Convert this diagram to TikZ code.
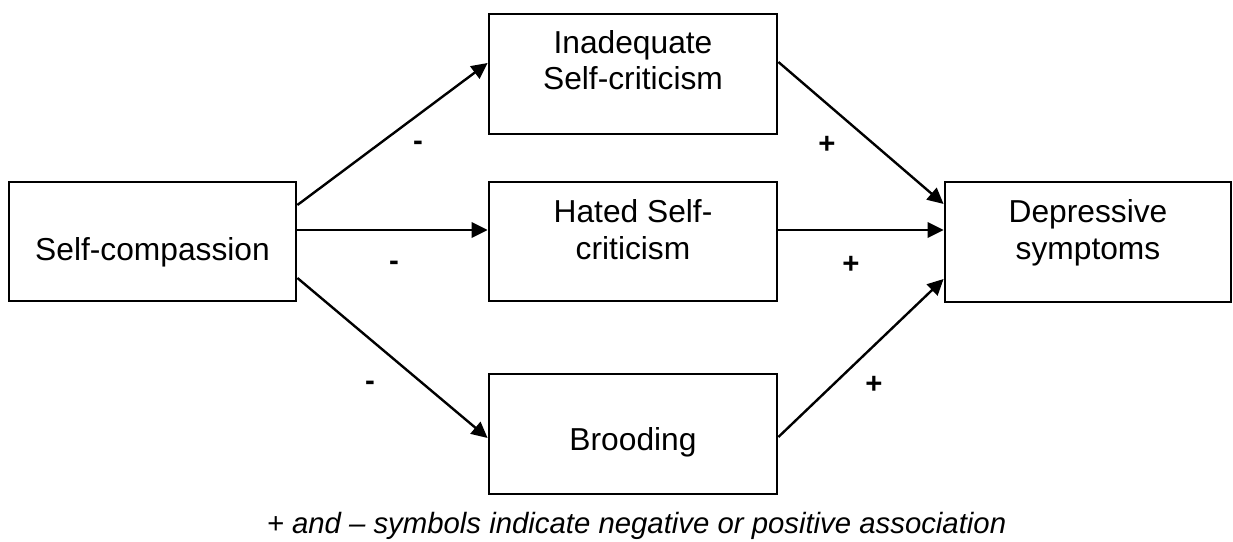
\documentclass[tikz,border=0pt]{standalone}
\usepackage{fontspec}
\setmainfont{Liberation Sans}
\usetikzlibrary{arrows.meta}

\tikzset{
  stagebox/.style={draw=black, line width=2.1pt, fill=white, inner sep=0pt,
    minimum width=216pt, minimum height=90pt},
  boxtext/.style={inner sep=0pt, align=center,
    font=\fontsize{23.8pt}{27.4pt}\selectfont},
  link/.style={line width=1.8pt, -{Triangle[length=12pt, width=11.5pt]}},
  sign/.style={inner sep=0pt, anchor=base,
    font=\fontsize{22pt}{26pt}\selectfont\bfseries},
  note/.style={inner sep=0pt, anchor=base,
    font=\fontsize{22pt}{26pt}\selectfont\itshape}
}

\begin{document}
\begin{tikzpicture}[x=0.75pt, y=-0.75pt]
  \useasboundingbox (0,0) rectangle (1233,542);

  % boxes
  \node[stagebox, minimum width=215.25pt, minimum height=89.25pt] (sc)  at (152.5,241.5) {};
  \node[stagebox] (ina) at (633,74) {};
  \node[stagebox, minimum height=89.25pt] (hat) at (633,241.5) {};
  \node[stagebox] (bro) at (633,434) {};
  \node[stagebox, minimum width=214.5pt] (dep) at (1088,242) {};

  % box labels (base = baseline of the last line)
  \node[boxtext, anchor=base] (sc-t)  at (152.5,260) {Self-compassion};
  \node[boxtext, anchor=base] (ina-t) at (633,90)  {Inadequate\\Self-criticism};
  \node[boxtext, anchor=base] (hat-t) at (633,259) {Hated Self-\\criticism};
  \node[boxtext, anchor=base] (bro-t) at (633,450) {Brooding};
  \node[boxtext, anchor=base] (dep-t) at (1088,259) {Depressive\\symptoms};

  % paths from self-compassion to the mediators
  \draw[link] (sc.east |- 0,205) -- (ina.west |- 0,63);
  \draw[link] (sc.east |- 0,230) -- (hat.west |- 0,230);
  \draw[link] (sc.east |- 0,278) -- (bro.west |- 0,438);

  % paths from the mediators to depressive symptoms
  \draw[link] (ina.east |- 0,62)  -- (dep.west |- 0,204);
  \draw[link] (hat.east |- 0,230) -- (dep.west |- 0,230);
  \draw[link] (bro.east |- 0,437) -- (dep.west |- 0,279);

  % signs of the associations
  \node[sign] (m1) at (418,151) {-};
  \node[sign] (m2) at (394,270) {-};
  \node[sign] (m3) at (370,390) {-};
  \node[sign] (p1) at (827,153) {+};
  \node[sign] (p2) at (851,273) {+};
  \node[sign] (p3) at (874,393) {+};

  % legend
  \node[note] (legend) at (636.5,533) {+ and – symbols indicate negative or positive association};
\end{tikzpicture}
\end{document}
